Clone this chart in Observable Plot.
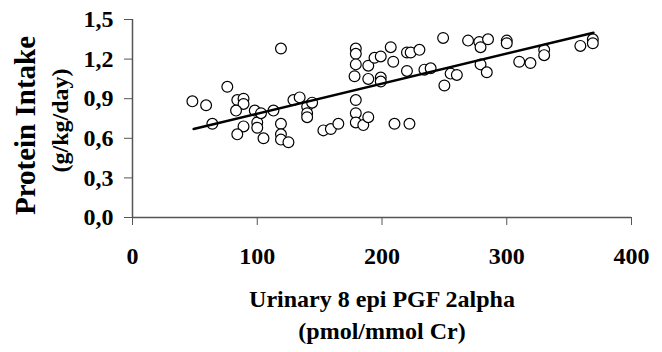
<!DOCTYPE html>
<html>
<head>
<meta charset="utf-8">
<script src="https://cdn.jsdelivr.net/npm/d3@7"></script>
<script src="https://cdn.jsdelivr.net/npm/@observablehq/plot@0.6"></script>
<style>
  html, body { margin: 0; padding: 0; background: #fff; }
  #chart svg { display: block; }
</style>
</head>
<body>
<div id="chart"></div>
<script>
// Urinary 8-epi PGF2alpha (pmol/mmol Cr)
const pgf = [48, 59, 76, 64, 84, 89, 89, 83, 89, 84, 98, 100, 100, 105, 103, 113, 119, 119, 119, 119,
  125, 129, 134, 140, 140, 140, 144, 153, 159, 165, 179, 179, 179, 178, 179, 179, 179, 185, 189, 189,
  189, 194, 199, 199, 199, 207, 209, 210, 220, 223, 220, 230, 222, 234, 239, 249, 255, 260, 250, 269,
  278, 279, 285, 279, 284, 300, 300, 310, 319, 330, 330, 359, 369, 369];
// Protein intake (g/kg/day)
const protein = [0.88, 0.85, 0.99, 0.71, 0.89, 0.90, 0.86, 0.81, 0.69, 0.63, 0.81, 0.72, 0.68, 0.60, 0.79, 0.81, 1.28, 0.71, 0.63, 0.59,
  0.57, 0.89, 0.91, 0.84, 0.79, 0.76, 0.87, 0.66, 0.67, 0.71, 1.28, 1.24, 1.16, 1.07, 0.89, 0.79, 0.72, 0.70, 0.76, 1.15,
  1.05, 1.21, 1.22, 1.06, 1.03, 1.29, 1.18, 0.71, 1.25, 1.25, 1.11, 1.27, 0.71, 1.12, 1.13, 1.36, 1.09, 1.08, 1.00, 1.34,
  1.33, 1.29, 1.35, 1.16, 1.10, 1.34, 1.32, 1.18, 1.17, 1.27, 1.23, 1.30, 1.35, 1.32];
// Trend line end points
const trendX = [49, 369.5];
const trendY = [0.67, 1.40];
const xTicks = [0, 100, 200, 300, 400];
const yTicks = [0, 0.3, 0.6, 0.9, 1.2, 1.5];
const xTitle = ["Urinary 8 epi PGF 2alpha", "(pmol/mmol Cr)"];
const yTitle = ["Protein Intake", "(g/kg/day)"];

const points = pgf.map((v, i) => ({x: v, y: protein[i]}));
const trend = trendX.map((v, i) => ({x: v, y: trendY[i]}));

const font = "'Liberation Serif', 'Times New Roman', serif";
const chart = Plot.plot({
  width: 662,
  height: 352,
  marginLeft: 132,
  marginRight: 31,
  marginTop: 19,
  marginBottom: 135,
  style: {fontFamily: font, background: "#fff", color: "#000"},
  x: {domain: [0, 400]},
  y: {domain: [0, 1.5]},
  marks: [
    Plot.axisX({ticks: xTicks, tickSize: 8, tickPadding: 21, fontSize: 24, fontWeight: "bold", stroke: "#555", label: null, tickFormat: d => String(d)}),
    Plot.axisY({ticks: yTicks, tickSize: 8, tickPadding: 11, fontSize: 24, fontWeight: "bold", stroke: "#555", label: null,
      tickFormat: d => d.toFixed(1).replace(".", ",")}),
    Plot.ruleX([0], {stroke: "#555", strokeWidth: 1.5}),
    Plot.ruleY([0], {stroke: "#555", strokeWidth: 1.5}),
    Plot.dot(points, {x: "x", y: "y", r: 5.4, fill: "white", stroke: "black", strokeWidth: 1.2}),
    Plot.line(trend, {x: "x", y: "y", stroke: "black", strokeWidth: 2.5}),
    Plot.text([xTitle[0]], {frameAnchor: "bottom", dy: 89, fontSize: 24, fontWeight: "bold", fill: "black"}),
    Plot.text([xTitle[1]], {frameAnchor: "bottom", dy: 121, fontSize: 24, fontWeight: "bold", fill: "black"}),
    Plot.text([yTitle[0]], {frameAnchor: "left", textAnchor: "middle", dx: -107, dy: 7, rotate: -90, fontSize: 29, fontWeight: "bold", fill: "black"}),
    Plot.text([yTitle[1]], {frameAnchor: "left", textAnchor: "middle", dx: -72, dy: 2, rotate: -90, fontSize: 24, fontWeight: "bold", fill: "black"})
  ]
});
document.getElementById("chart").appendChild(chart);
</script>
</body>
</html>
